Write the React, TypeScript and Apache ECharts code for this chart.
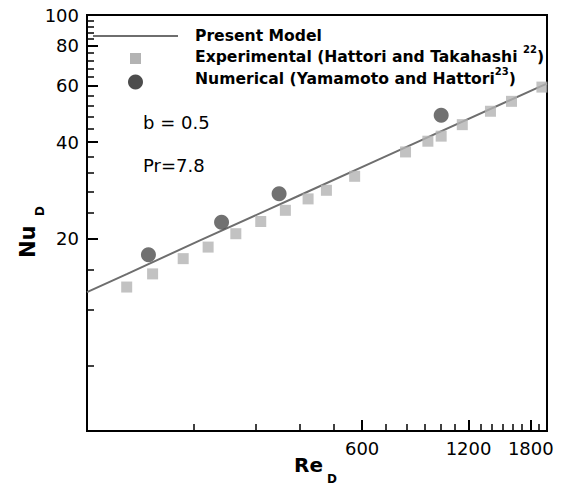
import React, { useEffect, useRef } from 'react';
import * as echarts from 'echarts';

// Present Model curve (Re_D, Nu_D)
const modelRe = [100, 130, 208, 400, 672, 1905, 2000];
const modelNu = [13.6, 15.5, 19.7, 27.3, 35.4, 59.6, 61.0];

// Experimental (Hattori and Takahashi 22)
const expRe = [129.5, 153.3, 187.1, 220.1, 263.6, 310, 364, 422, 475.5, 571.5, 796, 920.7, 1004, 1152, 1384, 1587, 1935];
const expNu = [14.1, 15.5, 17.3, 18.8, 20.7, 22.6, 24.5, 26.6, 28.3, 31.3, 37.3, 40.3, 41.8, 45.4, 50.0, 53.7, 59.5];

// Numerical (Yamamoto and Hattori 23)
const numRe = [149.2, 240.2, 349.4, 1004];
const numNu = [17.8, 22.5, 27.6, 48.6];

const xRange = [100, 2000];
const yRange = [5, 100];
const xMajorTicks = [600, 1200, 1800];
const xMinorTicks = [200, 300, 400, 500, 700, 800, 900, 1000, 1100, 1300, 1400, 1500, 1600, 1700, 1900];
const yMajorTicks = [20, 40, 60, 80, 100];
const yMinorTicks = [8, 12, 16, 24, 28, 32, 36, 44, 48, 52, 56, 64, 68, 72, 76, 84, 88, 92, 96];

const FONT = 'DejaVu Sans';
const lg = (v: number) => Math.log10(v);
const fmt = (v: number) => String(Math.round(Math.pow(10, v)));

export default function App() {
  const ref = useRef<HTMLDivElement>(null);
  useEffect(() => {
    if (!ref.current) return;
    const chart = echarts.init(ref.current, undefined, { renderer: 'svg' });
    const majorAxis = (vals: number[], range: number[], pos: string) => ({
      type: 'value',
      min: lg(range[0]),
      max: lg(range[1]),
      position: pos,
      axisLine: { show: true, onZero: false, lineStyle: { color: '#000', width: 2 } },
      axisTick: { show: true, inside: true, length: 11, lineStyle: { color: '#000', width: 2 }, customValues: vals.map(lg) },
      axisLabel: { show: true, customValues: vals.map(lg), formatter: fmt, fontSize: 18, color: '#000', fontFamily: FONT, margin: 8 },
      splitLine: { show: false },
    });
    const minorAxis = (vals: number[], range: number[], pos: string) => ({
      type: 'value',
      min: lg(range[0]),
      max: lg(range[1]),
      position: pos,
      axisLine: { show: false, onZero: false },
      axisTick: { show: true, inside: true, length: 7, lineStyle: { color: '#000', width: 1.5 }, customValues: vals.map(lg) },
      axisLabel: { show: false },
      splitLine: { show: false },
    });
    const legendText = { fontFamily: FONT, fontWeight: 'bold', fontSize: 15.6, lineHeight: 20, fill: '#000' };
    const supText = { fontFamily: FONT, fontWeight: 'bold', fontSize: 10, lineHeight: 20, padding: [0, 0, 16, 0], fill: '#000' };
    chart.setOption({
      animation: false,
      textStyle: { fontFamily: FONT },
      grid: { left: 87, right: 17, top: 15, bottom: 55, show: true, borderColor: '#000', borderWidth: 2, containLabel: false, outerBoundsMode: 'none' },
      xAxis: [majorAxis(xMajorTicks, xRange, 'bottom'), minorAxis(xMinorTicks, xRange, 'bottom')],
      yAxis: [majorAxis(yMajorTicks, yRange, 'left'), minorAxis(yMinorTicks, yRange, 'left')],
      series: [
        {
          name: 'Present Model', type: 'line', xAxisIndex: 0, yAxisIndex: 0,
          data: modelRe.map((r, i) => [lg(r), lg(modelNu[i])]),
          symbol: 'none', lineStyle: { color: '#6e6e6e', width: 2 }, z: 2,
        },
        {
          name: 'Experimental', type: 'scatter', xAxisIndex: 0, yAxisIndex: 0,
          data: expRe.map((r, i) => [lg(r), lg(expNu[i])]),
          symbol: 'rect', symbolSize: 11, itemStyle: { color: '#b3b3b3' }, z: 3,
        },
        {
          name: 'Numerical', type: 'scatter', xAxisIndex: 0, yAxisIndex: 0,
          data: numRe.map((r, i) => [lg(r), lg(numNu[i])]),
          symbol: 'circle', symbolSize: 15, itemStyle: { color: '#4d4d4d' }, z: 4,
        },
      ],
      graphic: [
        { type: 'line', shape: { x1: 93, y1: 36, x2: 178, y2: 36 }, style: { stroke: '#6e6e6e', lineWidth: 2 } },
        { type: 'rect', shape: { x: 130, y: 53, width: 11, height: 11 }, style: { fill: '#b3b3b3' } },
        { type: 'circle', shape: { cx: 135.5, cy: 82, r: 7.5 }, style: { fill: '#4d4d4d' } },
        { type: 'text', x: 195, y: 36, style: { text: 'Present Model', ...legendText, textAlign: 'left', textVerticalAlign: 'middle' } },
        {
          type: 'text', x: 195, y: 57,
          style: { text: '{a|Experimental (Hattori and Takahashi }{s|22}{a|)}', rich: { a: legendText, s: supText }, textAlign: 'left', textVerticalAlign: 'middle' },
        },
        {
          type: 'text', x: 195, y: 79,
          style: { text: '{a|Numerical (Yamamoto and Hattori}{s|23}{a|)}', rich: { a: legendText, s: supText }, textAlign: 'left', textVerticalAlign: 'middle' },
        },
        { type: 'text', x: 143, y: 122, style: { text: 'b = 0.5', fontFamily: FONT, fontSize: 18, fill: '#000', textAlign: 'left', textVerticalAlign: 'middle' } },
        { type: 'text', x: 143, y: 165, style: { text: 'Pr=7.8', fontFamily: FONT, fontSize: 18, fill: '#000', textAlign: 'left', textVerticalAlign: 'middle' } },
        { type: 'text', x: 294, y: 465, style: { text: 'Re', fontFamily: FONT, fontWeight: 'bold', fontSize: 20, fill: '#000', textAlign: 'left', textVerticalAlign: 'middle' } },
        { type: 'text', x: 327, y: 479, style: { text: 'D', fontFamily: FONT, fontWeight: 'bold', fontSize: 12, fill: '#000', textAlign: 'left', textVerticalAlign: 'middle' } },
        { type: 'text', x: 27.5, y: 258, rotation: Math.PI / 2, style: { text: 'Nu', fontFamily: FONT, fontWeight: 'bold', fontSize: 21, fill: '#000', textAlign: 'left', textVerticalAlign: 'middle' } },
        { type: 'text', x: 40, y: 216, rotation: Math.PI / 2, style: { text: 'D', fontFamily: FONT, fontWeight: 'bold', fontSize: 12, fill: '#000', textAlign: 'left', textVerticalAlign: 'middle' } },
      ],
    });
    return () => chart.dispose();
  }, []);
  return <div ref={ref} style={{ position: 'absolute', left: 0, top: 0, width: 564, height: 486 }} />;
}
